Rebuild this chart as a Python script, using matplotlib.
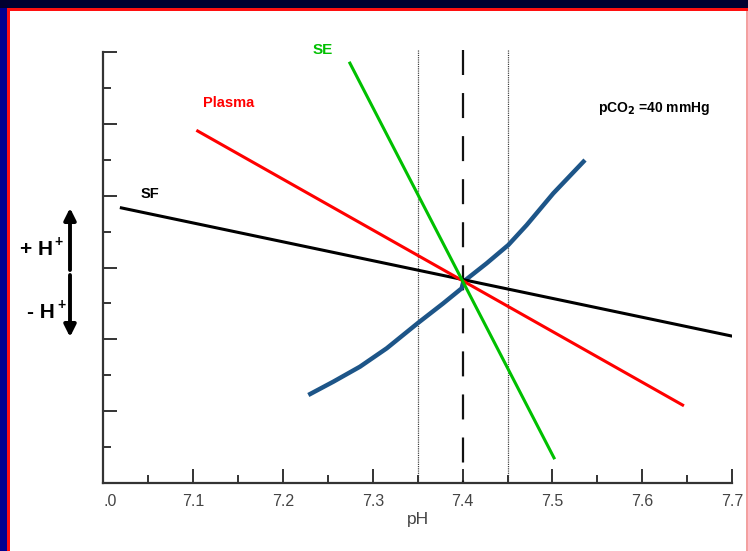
import matplotlib
matplotlib.use("Agg")
import matplotlib.pyplot as plt
from matplotlib.patches import Rectangle
import numpy as np

plt.rcParams['font.family'] = ['Liberation Sans', 'DejaVu Sans']
plt.rcParams['lines.scale_dashes'] = False

# ---- data ----
x_ticks = [7.0, 7.1, 7.2, 7.3, 7.4, 7.5, 7.6, 7.7]
x_tick_labels = ['.0', '7.1', '7.2', '7.3', '7.4', '7.5', '7.6', '7.7']
x_minor = [7.05, 7.15, 7.25, 7.35, 7.45, 7.55, 7.65]
y_major = [2, 4, 6, 8, 10, 12]
y_minor = [1, 3, 5, 7, 9, 11]

sf_ph = [7.02, 7.70]
sf_val = [7.66, 4.09]
plasma_ph = [7.105, 7.645]
plasma_val = [9.80, 2.17]
se_ph = [7.2745, 7.5018]
se_val = [11.69, 0.70]
blood_ph = [7.2282, 7.2560, 7.2857, 7.3155, 7.3507, 7.3785, 7.3990, 7.4008,
            7.4268, 7.4509, 7.4714, 7.5010, 7.5363]
blood_val = [2.450, 2.820, 3.238, 3.750, 4.463, 5.003, 5.420, 5.604,
             6.117, 6.626, 7.183, 8.065, 8.992]
ref_dotted = [7.35, 7.45]
ref_dashed = 7.40

W, H = 748, 551
fig = plt.figure(figsize=(W / 100, H / 100), dpi=100)
fig.patch.set_facecolor('#000030')

def px_rect(x0, y0, x1, y1, color, z):
    r = Rectangle((x0 / W, 1 - y1 / H), (x1 - x0) / W, (y1 - y0) / H,
                  transform=fig.transFigure, facecolor=color, edgecolor='none', zorder=z)
    fig.patches.append(r)

px_rect(0, 8, 7, H, '#000090', -4)
px_rect(7, 8, W, H, '#ff1010', -3)
px_rect(10, 11, W, H, '#ffffff', -2)
px_rect(746, 11, W, H, '#f4a0a0', -1)

ax = fig.add_axes([103.4 / W, (H - 483) / H, (732 - 103.4) / W, 431 / H])
ax.set_zorder(1)
ax.set_facecolor('none')
ax.set_xlim(7.0, 7.7)
ax.set_ylim(0, 12)

for s in ['top', 'right']:
    ax.spines[s].set_visible(False)
for s in ['left', 'bottom']:
    ax.spines[s].set_linewidth(1.6)
    ax.spines[s].set_color('#333333')

ax.set_xticks(x_ticks)
ax.set_xticklabels(x_tick_labels)
ax.set_xticks(x_minor, minor=True)
ax.set_yticks(y_major)
ax.set_yticks(y_minor, minor=True)
ax.set_yticklabels([])
ax.tick_params(axis='both', which='major', direction='in', length=10, width=1.4, color='#333333')
ax.tick_params(axis='both', which='minor', direction='in', length=6, width=1.4, color='#333333')
ax.tick_params(axis='x', which='major', labelsize=11.5, labelcolor='#444444', pad=8)
ax.get_xticklabels()[0].set_horizontalalignment('left')
ax.set_xlabel('pH', fontsize=12.5, color='#444444', labelpad=2)

# reference lines
for xv in ref_dotted:
    ax.plot([xv, xv], [12.05, 0], color='#333333', lw=0.9, dashes=(0.8, 0.8), clip_on=False, zorder=2)
ax.plot([ref_dashed, ref_dashed], [12.05, 0], color='#111111', lw=1.6, dashes=(18, 13), clip_on=False, zorder=2)

ax.plot(blood_ph, blood_val, color='#1d5588', lw=3.2, solid_capstyle='butt', zorder=3)
ax.plot(sf_ph, sf_val, color='black', lw=2.2, zorder=4)
ax.plot(plasma_ph, plasma_val, color='#ff0000', lw=2.2, zorder=4)
ax.plot(se_ph, se_val, color='#00c000', lw=2.2, zorder=5)

ax.text(7.2445, 12.05, 'SE', color='#00c000', fontsize=11, fontweight='bold',
        ha='center', va='center', clip_on=False)
ax.text(7.139, 10.58, 'Plasma', color='#ff0000', fontsize=10.5, fontweight='bold',
        ha='center', va='center')
ax.text(7.052, 8.05, 'SF', color='black', fontsize=10.5, fontweight='bold',
        ha='center', va='center')
ax.text(7.613, 10.44, 'pCO$_\\mathbf{2}$ =40 mmHg', color='black', fontsize=10, fontweight='bold',
        ha='center', va='center')

def fp(x, y):
    return (x, H - y)

fig.text(20 / W, 1 - 250 / H, '+ H', fontsize=15, fontweight='bold', ha='left', va='center')
fig.text(54 / W, 1 - 242 / H, '+', fontsize=10, fontweight='bold', ha='left', va='center')
fig.text(27 / W, 1 - 313 / H, '- H', fontsize=15, fontweight='bold', ha='left', va='center')
fig.text(57 / W, 1 - 305 / H, '+', fontsize=10, fontweight='bold', ha='left', va='center')

ax.annotate('', xy=fp(70, 208), xytext=fp(70, 270), xycoords='figure pixels',
            textcoords='figure pixels', annotation_clip=False,
            arrowprops=dict(arrowstyle='-|>,head_width=0.35,head_length=0.7', lw=2.8,
                            color='black', shrinkA=0, shrinkB=0))
ax.annotate('', xy=fp(70, 337), xytext=fp(70, 275), xycoords='figure pixels',
            textcoords='figure pixels', annotation_clip=False,
            arrowprops=dict(arrowstyle='-|>,head_width=0.35,head_length=0.7', lw=2.8,
                            color='black', shrinkA=0, shrinkB=0))

fig.savefig('out.png', dpi=100, facecolor=fig.get_facecolor())
